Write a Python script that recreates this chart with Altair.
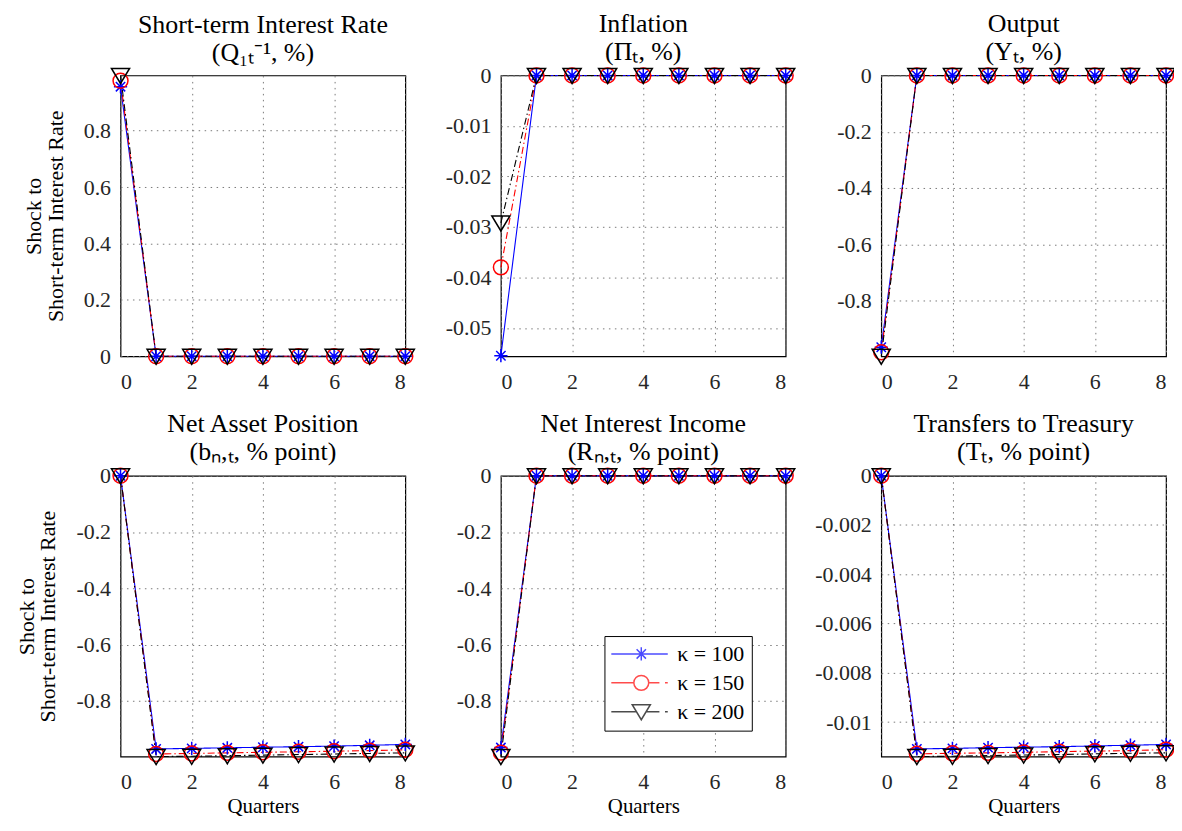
import altair as alt
import pandas as pd

quarters = [0, 1, 2, 3, 4, 5, 6, 7, 8]
series_names = ["κ = 100", "κ = 150", "κ = 200"]
series_colors = ["#0000FF", "#FF0000", "#000000"]

# Panel 1: Short-term interest rate
rate_100 = [0.956, 0, 0, 0, 0, 0, 0, 0, 0]
rate_150 = [0.977, 0, 0, 0, 0, 0, 0, 0, 0]
rate_200 = [0.996, 0, 0, 0, 0, 0, 0, 0, 0]
# Panel 2: Inflation
infl_100 = [-0.0555, 0, 0, 0, 0, 0, 0, 0, 0]
infl_150 = [-0.0380, 0, 0, 0, 0, 0, 0, 0, 0]
infl_200 = [-0.0292, 0, 0, 0, 0, 0, 0, 0, 0]
# Panel 3: Output
out_100 = [-0.966, 0, 0, 0, 0, 0, 0, 0, 0]
out_150 = [-0.984, 0, 0, 0, 0, 0, 0, 0, 0]
out_200 = [-0.998, 0, 0, 0, 0, 0, 0, 0, 0]
# Panel 4: Net asset position
nap_100 = [0, -0.971, -0.969, -0.967, -0.965, -0.963, -0.961, -0.958, -0.955]
nap_150 = [0, -0.989, -0.987, -0.985, -0.983, -0.981, -0.979, -0.977, -0.974]
nap_200 = [0, -0.998, -0.997, -0.995, -0.993, -0.991, -0.989, -0.987, -0.985]
# Panel 5: Net interest income
nii_100 = [-0.966, 0, 0, 0, 0, 0, 0, 0, 0]
nii_150 = [-0.984, 0, 0, 0, 0, 0, 0, 0, 0]
nii_200 = [-0.998, 0, 0, 0, 0, 0, 0, 0, 0]
# Panel 6: Transfers to treasury
tr_100 = [0, -0.01109, -0.01107, -0.01104, -0.01102, -0.01100, -0.01097, -0.01094, -0.01091]
tr_150 = [0, -0.01129, -0.01127, -0.01125, -0.01123, -0.01120, -0.01118, -0.01116, -0.01112]
tr_200 = [0, -0.01140, -0.01139, -0.01136, -0.01134, -0.01132, -0.01129, -0.01127, -0.01125]

titles = [
    ["Short-term Interest Rate", "(Q₁ₜ⁻¹, %)"],
    ["Inflation", "(Πₜ, %)"],
    ["Output", "(Yₜ, %)"],
    ["Net Asset Position", "(bₙ,ₜ, % point)"],
    ["Net Interest Income", "(Rₙ,ₜ, % point)"],
    ["Transfers to Treasury", "(Tₜ, % point)"],
]
domains = [[0, 0.996], [-0.0556, 0], [-0.998, 0], [-0.998, 0], [-0.998, 0], [-0.0114, 0]]
yticks = [
    [0, 0.2, 0.4, 0.6, 0.8],
    [0, -0.01, -0.02, -0.03, -0.04, -0.05],
    [0, -0.2, -0.4, -0.6, -0.8],
    [0, -0.2, -0.4, -0.6, -0.8],
    [0, -0.2, -0.4, -0.6, -0.8],
    [0, -0.002, -0.004, -0.006, -0.008, -0.01],
]
panel_data = [
    (rate_100, rate_150, rate_200),
    (infl_100, infl_150, infl_200),
    (out_100, out_150, out_200),
    (nap_100, nap_150, nap_200),
    (nii_100, nii_150, nii_200),
    (tr_100, tr_150, tr_200),
]
xticks = [0, 2, 4, 6, 8]

FONT = "Liberation Serif"
STAR = "M-0.95,0L0.95,0M0,-0.95L0,0.95M-0.67,-0.67L0.67,0.67M-0.67,0.67L0.67,-0.67"
CIRC = "M1.07,0A1.07,1.07 0 1,1 -1.07,0A1.07,1.07 0 1,1 1.07,0Z"
TRI = "M-1.3,-1L1.3,-1L0,1.15Z"
shape_range = [STAR, CIRC, TRI]
dash_range = [[1, 0], [7, 3, 1.5, 3], [7, 3, 1.5, 3]]

LEG_STAR = "M-4.3,0L3.8,0" + STAR
LEG_CIRC = "M-4.3,0L-1.07,0M1.07,0L2.6,0M3.4,0L3.8,0" + CIRC
LEG_TRI = "M-4.3,0L-0.7,0M0.7,0L2.6,0M3.4,0L3.8,0" + TRI
legend_shapes = [LEG_STAR, LEG_CIRC, LEG_TRI]

W, H = 286, 282


def make_legend():
    return alt.Legend(
        orient="none", legendX=104, legendY=161, title=None,
        strokeColor="black", fillColor="white", padding=7,
        labelFont=FONT, labelFontSize=22, labelColor="black",
        symbolSize=196, symbolStrokeWidth=1.5, symbolOffset=19, labelOffset=25,
        rowPadding=7, symbolFillColor="transparent",
    )


def panel(i):
    rows = []
    for name, vals in zip(series_names, panel_data[i]):
        for q, v in zip(quarters, vals):
            rows.append({"t": q, "v": v, "s": name})
    df = pd.DataFrame(rows)

    xaxis = dict(values=xticks, grid=True, labelPadding=15, titlePadding=3,
                 labelFontSize=22, titleFontSize=21, labelFont=FONT, titleFont=FONT)
    yaxis = dict(values=yticks[i], grid=True, labelExpr="'' + datum.value",
                 labelPadding=10, titlePadding=16, titleLineHeight=22,
                 labelFontSize=22, titleFontSize=22, labelFont=FONT, titleFont=FONT)

    x = alt.X("t:Q", scale=alt.Scale(domain=[0, 8], nice=False, zero=False),
              axis=alt.Axis(**xaxis), title=("Quarters" if i >= 3 else None))
    y = alt.Y("v:Q", scale=alt.Scale(domain=domains[i], nice=False, zero=False),
              axis=alt.Axis(**yaxis),
              title=(["Shock to", "Short-term Interest Rate"] if i in (0, 3) else None))

    cscale = alt.Scale(domain=series_names, range=series_colors)
    base = alt.Chart(df).encode(x=x, y=y)
    line = base.mark_line(strokeWidth=1.1).encode(
        color=alt.Color("s:N", scale=cscale, legend=None),
        strokeDash=alt.StrokeDash("s:N", scale=alt.Scale(domain=series_names, range=dash_range), legend=None),
    )
    pts = base.mark_point(filled=False, size=196, strokeWidth=1.5, opacity=1).encode(
        color=alt.Color("s:N", scale=cscale, legend=None),
        shape=alt.Shape("s:N", scale=alt.Scale(domain=series_names, range=shape_range), legend=None),
        order=alt.Order("s:N"),
    )
    layers = [line, pts]
    if i == 4:
        hidden = base.mark_point(filled=False, size=196, strokeWidth=1.5).encode(
            color=alt.Color("s:N", scale=alt.Scale(domain=series_names, range=series_colors),
                            legend=make_legend()),
            shape=alt.Shape("s:N", scale=alt.Scale(domain=series_names, range=legend_shapes),
                            legend=make_legend()),
        ).transform_filter("false")
        layers.append(hidden)
    return alt.layer(*layers).resolve_scale(
        color="independent", shape="independent", strokeDash="independent"
    ).properties(
        width=W, height=H,
        title=alt.TitleParams(text=titles[i], font=FONT, fontSize=26, fontWeight="normal",
                              color="black", lineHeight=28, offset=0),
    )


res = dict(color="independent", shape="independent", strokeDash="independent")
chart = alt.concat(
    *[panel(i) for i in range(6)], columns=3,
    spacing={"row": 120, "column": 96}, bounds="flush",
).resolve_scale(**res).properties(
    padding={"left": 6, "top": 0, "right": -5, "bottom": 0}
).configure_axis(
    labelColor="#262626", titleFontWeight="normal", titleColor="black",
    gridColor="#7a7a7a", gridDash=[1.5, 4.5], gridWidth=1,
    domain=False, ticks=False,
).configure_view(stroke="black", strokeWidth=1.2)

chart.save("out.html", embed_options={"renderer": "svg", "actions": False})
